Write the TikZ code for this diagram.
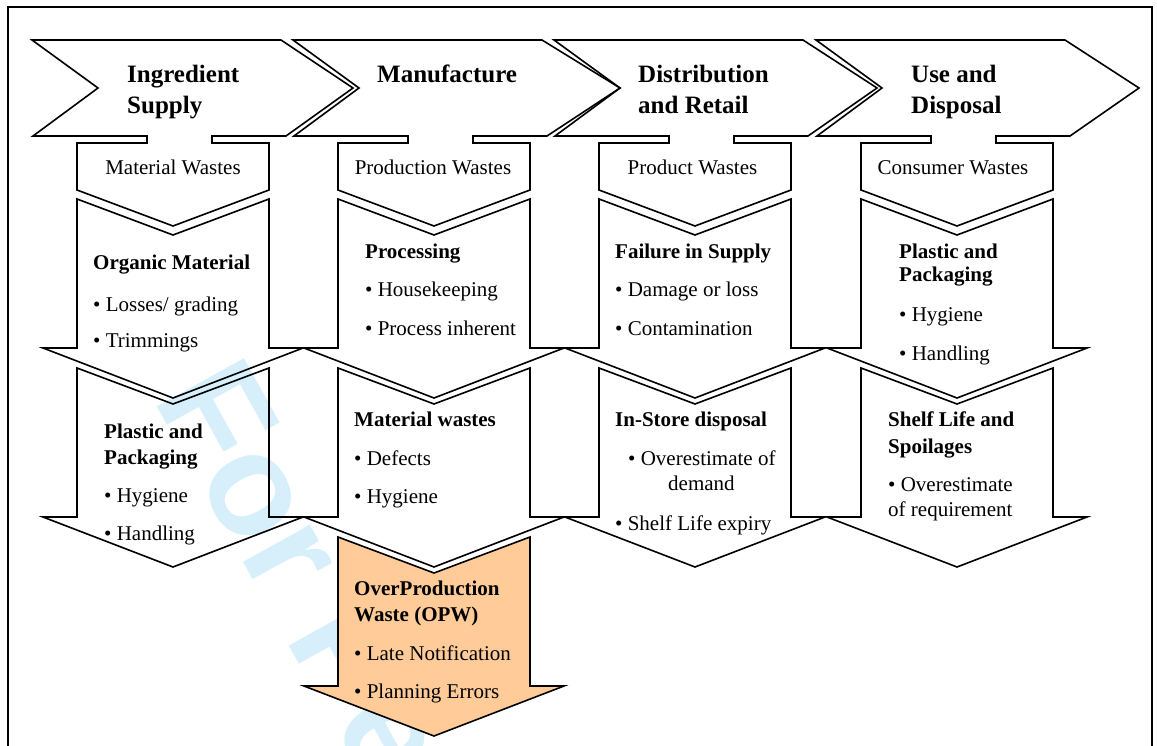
\documentclass[tikz,border=0pt]{standalone}
\usepackage{fontspec}
\setmainfont{Liberation Serif}
\newfontfamily\wmfont{Liberation Sans}
\definecolor{wmblue}{RGB}{214,239,251}
\definecolor{opw}{RGB}{255,204,153}
\begin{document}
\begin{tikzpicture}[x=1pt,y=-1pt,
  outline/.style={draw=black, line width=1.6pt, line join=miter},
  ttl/.style={font=\bfseries\fontsize{25}{30}\selectfont, anchor=base west, inner sep=0pt},
  wst/.style={font=\fontsize{21}{25}\selectfont, anchor=base, inner sep=0pt},
  hd/.style={font=\bfseries\fontsize{21}{25}\selectfont, anchor=base west, inner sep=0pt},
  itm/.style={font=\fontsize{21}{25}\selectfont, anchor=base west, inner sep=0pt},
  wm/.style={font=\wmfont\bfseries\fontsize{145}{145}\selectfont, text=wmblue, anchor=base west, inner sep=0pt, rotate=-61}]
\useasboundingbox (0,0) rectangle (1157,745);
% watermark
\node[wm] (wmark) at (152,398) {For Peer Review};
% frame
\draw[line width=1.4pt] (8,7) rectangle (1152,800);
% stage chevrons with waste callouts
\foreach \c/\t in {173/180,434/186,695/182,957/182}{
  \draw[outline] (\c-141,40) -- (\c+108,40) -- (\c+\t,88) -- (\c+113,136) -- (\c+39,136) -- (\c+39,143) -- (\c+96,143) -- (\c+96,190) -- (\c,226) -- (\c-96,190) -- (\c-96,143) -- (\c-26,143) -- (\c-26,136) -- (\c-140,136) -- (\c-75,88) -- cycle;
  \foreach \y in {199,368}{
    \draw[outline] (\c-96,\y) -- (\c,\y+36) -- (\c+96,\y) -- (\c+96,\y+149) -- (\c+130,\y+149) -- (\c,\y+199) -- (\c-130,\y+149) -- (\c-96,\y+149) -- cycle;
  }
}
% overproduction arrow
\draw[outline, fill=opw] (434-96,537) -- (434,573) -- (434+96,537) -- (434+96,686) -- (434+130,686) -- (434,736) -- (434-130,686) -- (434-96,686) -- cycle;
% titles
\node[ttl] (t1a) at (127,82) {Ingredient};
\node[ttl] (t1b) at (127,113) {Supply};
\node[ttl] (t2a) at (377,82) {Manufacture};
\node[ttl] (t3a) at (638,82) {Distribution};
\node[ttl] (t3b) at (638,113) {and Retail};
\node[ttl] (t4a) at (911,82) {Use and};
\node[ttl] (t4b) at (911,113) {Disposal};
% waste labels
\node[wst] (w1) at (173,174) {Material Wastes};
\node[wst] (w2) at (433,174) {Production Wastes};
\node[wst] (w3) at (692.5,174) {Product Wastes};
\node[wst] (w4) at (953,174) {Consumer Wastes};
% column 1
\node[hd] (a1) at (93,269.3) {Organic Material};
\node[itm] (a2) at (93,311.7) {• Losses/ grading};
\node[itm] (a3) at (93,347.7) {• Trimmings};
\node[hd] (b1) at (104,438) {Plastic and};
\node[hd] (b2) at (104,464) {Packaging};
\node[itm] (b3) at (104,502) {• Hygiene};
\node[itm] (b4) at (104,540) {• Handling};
% column 2
\node[hd] (c1) at (365,258.3) {Processing};
\node[itm] (c2) at (365,296.7) {• Housekeeping};
\node[itm] (c3) at (365,335) {• Process inherent};
\node[hd] (d1) at (354,426.7) {Material wastes};
\node[itm] (d2) at (354,465) {• Defects};
\node[itm] (d3) at (354,503.3) {• Hygiene};
\node[hd] (e1) at (354,595.7) {OverProduction};
\node[hd] (e2) at (354,621.7) {Waste (OPW)};
\node[itm] (e3) at (354,660) {• Late Notification};
\node[itm] (e4) at (354,698.3) {• Planning Errors};
% column 3
\node[hd] (f1) at (615,258.3) {Failure in Supply};
\node[itm] (f2) at (615,296) {• Damage or loss};
\node[itm] (f3) at (615,335) {• Contamination};
\node[hd] (g1) at (615,426.7) {In-Store disposal};
\node[itm] (g2) at (628,465) {• Overestimate of};
\node[itm] (g3) at (668,490) {demand};
\node[itm] (g4) at (615,530) {• Shelf Life expiry};
% column 4
\node[hd] (h1) at (899,258.3) {Plastic and};
\node[hd] (h2) at (899,281.7) {Packaging};
\node[itm] (h3) at (899,321.7) {• Hygiene};
\node[itm] (h4) at (899,360) {• Handling};
\node[hd] (k1) at (888,426.7) {Shelf Life and};
\node[hd] (k2) at (888,453.3) {Spoilages};
\node[itm] (k3) at (888,491.7) {• Overestimate};
\node[itm] (k4) at (888,516.7) {of requirement};
\end{tikzpicture}
\end{document}
